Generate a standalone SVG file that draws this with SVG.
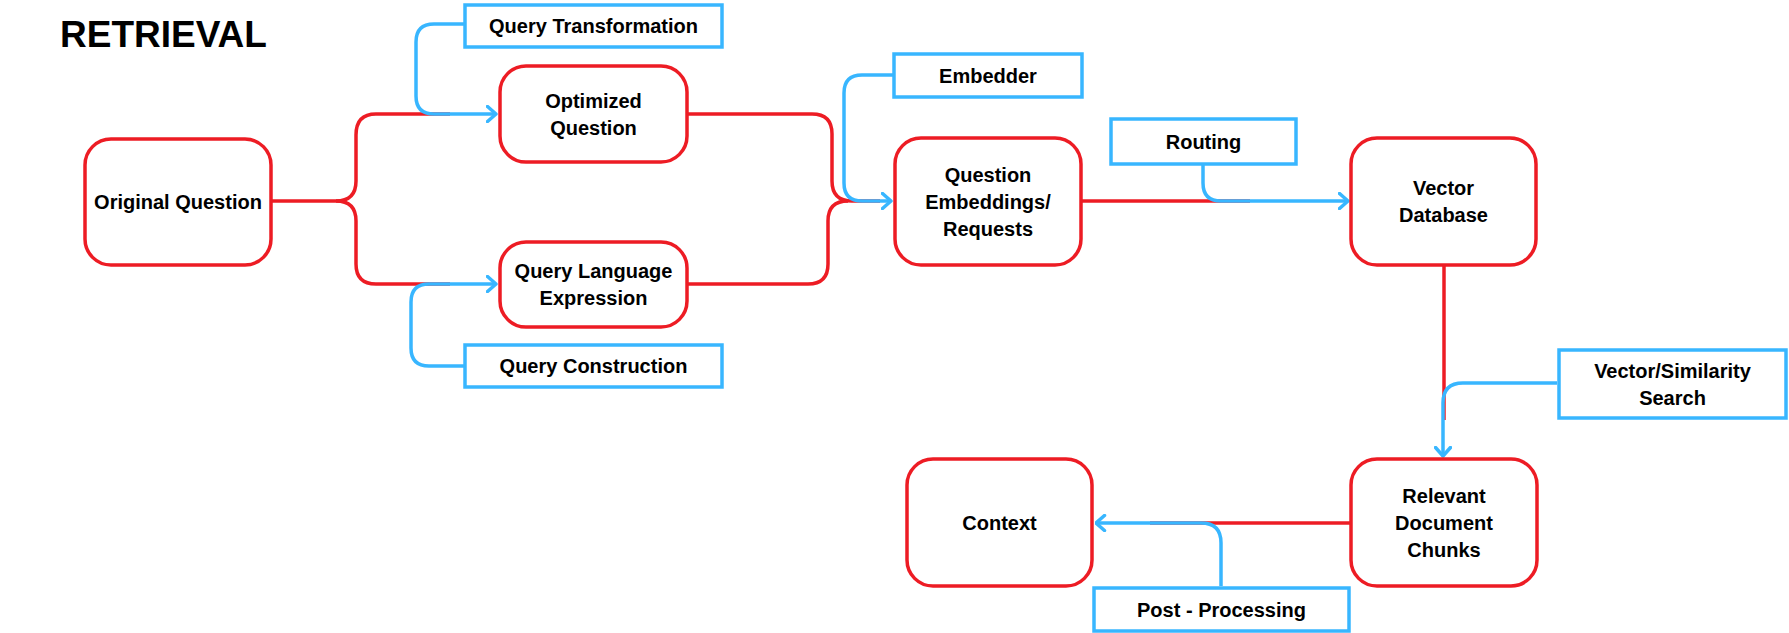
<svg xmlns="http://www.w3.org/2000/svg" width="1789" height="633" viewBox="0 0 1789 633">
<defs>
<style>
.node{fill:#fff;stroke:#ED1C24;stroke-width:3.5}
.tag{fill:#fff;stroke:#38B6FF;stroke-width:3.5}
.t{font-family:"Liberation Sans",Arial,sans-serif;font-weight:bold;font-size:20px;fill:#000;text-anchor:middle}
.red{fill:none;stroke:#ED1C24;stroke-width:3.5}
.blue{fill:none;stroke:#38B6FF;stroke-width:3.5;stroke-linejoin:round}
</style>
<marker id="arr" viewBox="0 0 12 18" refX="10.5" refY="9" markerWidth="12" markerHeight="18" markerUnits="userSpaceOnUse" orient="auto">
<path d="M2,1.5 L10.5,9 L2,16.5" fill="none" stroke="#38B6FF" stroke-width="3.5" stroke-linecap="round" stroke-linejoin="round"/>
</marker>
</defs>
<rect width="1789" height="633" fill="#fff"/>
<text x="60" y="47" font-family="Liberation Sans,Arial,sans-serif" font-weight="bold" font-size="37" fill="#000">RETRIEVAL</text>

<g id="connectors">
<path class="red" d="M272,201 H336 Q356,201 356,181 V135 Q356,114 376,114 H450"/>
<path class="red" d="M336,201 Q356,201 356,221 V264 Q356,284 376,284 H450"/>
<path class="red" d="M688,114 H812 Q832,114 832,134 V181 Q832,201 852,201 H880"/>
<path class="red" d="M688,284 H808 Q828,284 828,264 V221 Q828,201 848,201"/>
<path class="red" d="M1082,201 H1250"/>
<path class="red" d="M1444,266 V420"/>
<path class="red" d="M1350,523 H1150"/>
<path class="blue" marker-end="url(#arr)" d="M464,24 H434 Q416,24 416,42 V96 Q416,114 434,114 H496"/>
<path class="blue" marker-end="url(#arr)" d="M464,366 H429 Q411,366 411,348 V302 Q411,284 429,284 H496"/>
<path class="blue" marker-end="url(#arr)" d="M893,75 H862 Q844,75 844,93 V183 Q844,201 862,201 H891"/>
<path class="blue" marker-end="url(#arr)" d="M1203,165 V183 Q1203,201 1221,201 H1348"/>
<path class="blue" marker-end="url(#arr)" d="M1557,383 H1463 Q1443,383 1443,403 V456"/>
<path class="blue" marker-end="url(#arr)" d="M1221,586 V543 Q1221,523 1201,523 H1096"/>
</g>

<g id="original-question"><rect class="node" x="85" y="139" width="186" height="126" rx="26"/><text class="t" x="178" y="208.5">Original Question</text></g>
<g id="optimized-question"><rect class="node" x="500" y="66" width="187" height="96" rx="26"/><text class="t" x="593.5" y="107.5">Optimized</text><text class="t" x="593.5" y="134.5">Question</text></g>
<g id="query-language-expression"><rect class="node" x="500" y="242" width="187" height="85" rx="26"/><text class="t" x="593.5" y="277.5">Query Language</text><text class="t" x="593.5" y="304.5">Expression</text></g>
<g id="question-embeddings"><rect class="node" x="895" y="138" width="186" height="127" rx="26"/><text class="t" x="988" y="181.5">Question</text><text class="t" x="988" y="208.5">Embeddings/</text><text class="t" x="988" y="235.5">Requests</text></g>
<g id="vector-database"><rect class="node" x="1351" y="138" width="185" height="127" rx="26"/><text class="t" x="1443.5" y="195">Vector</text><text class="t" x="1443.5" y="222">Database</text></g>
<g id="relevant-document-chunks"><rect class="node" x="1351" y="459" width="186" height="127" rx="26"/><text class="t" x="1444" y="502.5">Relevant</text><text class="t" x="1444" y="529.5">Document</text><text class="t" x="1444" y="556.5">Chunks</text></g>
<g id="context"><rect class="node" x="907" y="459" width="185" height="127" rx="26"/><text class="t" x="999.5" y="529.5">Context</text></g>

<g id="query-transformation"><rect class="tag" x="465" y="5" width="257" height="42"/><text class="t" x="593.5" y="33">Query Transformation</text></g>
<g id="query-construction"><rect class="tag" x="465" y="345" width="257" height="42"/><text class="t" x="593.5" y="373">Query Construction</text></g>
<g id="embedder"><rect class="tag" x="894" y="54" width="188" height="43"/><text class="t" x="988" y="82.5">Embedder</text></g>
<g id="routing"><rect class="tag" x="1111" y="119" width="185" height="45"/><text class="t" x="1203.5" y="148.5">Routing</text></g>
<g id="vector-similarity-search"><rect class="tag" x="1559" y="350" width="227" height="68"/><text class="t" x="1672.5" y="377.5">Vector/Similarity</text><text class="t" x="1672.5" y="404.5">Search</text></g>
<g id="post-processing"><rect class="tag" x="1094" y="588" width="255" height="43"/><text class="t" x="1221.5" y="616.5">Post - Processing</text></g>
</svg>
